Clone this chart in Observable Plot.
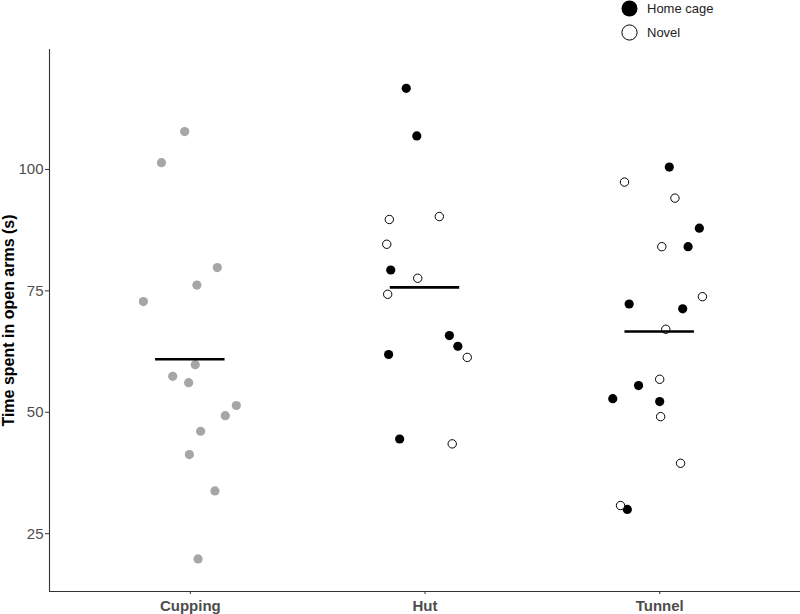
<!DOCTYPE html>
<html>
<head>
<meta charset="utf-8">
<script src="https://cdn.jsdelivr.net/npm/d3@7"></script>
<script src="https://cdn.jsdelivr.net/npm/@observablehq/plot@0.6"></script>
<style>
  body { margin: 0; background: #fff; font-family: "Liberation Sans", Arial, sans-serif; }
  #wrap { position: relative; width: 800px; height: 614px; }
  #legend { position: absolute; left: 620px; top: -4px; font-size: 13px; color: #222; }
  #legend .row { display: flex; align-items: center; height: 24px; }
  #legend svg { margin-right: 8px; }
</style>
</head>
<body>
<div id="wrap">
  <div id="chart"></div>
  <div id="legend">
    <div class="row"><svg width="19" height="19"><circle cx="9.5" cy="9.5" r="8" fill="#000"/></svg><span>Home cage</span></div>
    <div class="row"><svg width="19" height="19"><circle cx="9.5" cy="9.5" r="7.6" fill="#fff" stroke="#000" stroke-width="1"/></svg><span>Novel</span></div>
  </div>
</div>
<script>
const categories = ["Cupping", "Hut", "Tunnel"];
const yTicks = [25, 50, 75, 100];
const yTitle = "Time spent in open arms (s)";

// Cupping (no housing split)
const cuppingValues = [107.8, 101.4, 79.8, 76.2, 72.8, 59.8, 57.4, 56.1, 51.4, 49.3, 46.1, 41.3, 33.8, 19.8];
const cuppingJitter = [-0.024, -0.123, 0.115, 0.028, -0.200, 0.021, -0.075, -0.007, 0.196, 0.149, 0.044, -0.004, 0.105, 0.033];

// Hut
const hutHomeValues = [116.7, 106.9, 79.3, 65.8, 63.6, 61.9, 44.5];
const hutHomeJitter = [-0.080, -0.035, -0.146, 0.104, 0.140, -0.155, -0.108];
const hutNovelValues = [89.7, 90.3, 84.6, 77.6, 74.3, 61.3, 43.5];
const hutNovelJitter = [-0.152, 0.061, -0.163, -0.031, -0.159, 0.180, 0.116];

// Tunnel
const tunnelHomeValues = [100.5, 87.9, 84.1, 72.3, 71.3, 55.5, 52.8, 52.2, 30.0];
const tunnelHomeJitter = [0.041, 0.169, 0.121, -0.130, 0.098, -0.090, -0.200, 0.000, -0.138];
const tunnelNovelValues = [97.4, 94.1, 84.1, 73.8, 67.1, 56.8, 49.1, 39.5, 30.8];
const tunnelNovelJitter = [-0.150, 0.065, 0.009, 0.182, 0.026, 0.000, 0.004, 0.089, -0.167];

function rows(group, housing, values, jitter) {
  return values.map((v, i) => ({group, housing, value: v, pos: categories.indexOf(group) + 1 + jitter[i]}));
}
const cupping = rows("Cupping", "none", cuppingValues, cuppingJitter);
const home = [...rows("Hut", "Home cage", hutHomeValues, hutHomeJitter), ...rows("Tunnel", "Home cage", tunnelHomeValues, tunnelHomeJitter)];
const novel = [...rows("Hut", "Novel", hutNovelValues, hutNovelJitter), ...rows("Tunnel", "Novel", tunnelNovelValues, tunnelNovelJitter)];
const all = [...cupping, ...home, ...novel];
const means = categories.map((c, i) => ({group: c, idx: i + 1, mean: d3.mean(all.filter(d => d.group === c), d => d.value)}));

const halfWidth = 0.148;
const yMin = 13.1, yMax = 124.7;

const chart = Plot.plot({
  width: 800,
  height: 614,
  marginLeft: 49,
  marginRight: 0,
  marginTop: 49,
  marginBottom: 23,
  style: {fontFamily: "'Liberation Sans', Arial, sans-serif", background: "#fff"},
  x: {type: "linear", domain: [0.4, 3.6], axis: null},
  y: {domain: [yMin, yMax], axis: null},
  marks: [
    Plot.ruleX([0.4], {stroke: "#333", strokeWidth: 1.1}),
    Plot.ruleY([yMin], {stroke: "#333", strokeWidth: 1.1}),
    Plot.axisY({ticks: yTicks, tickSize: 4, tickPadding: 2, fontSize: 15, stroke: "#333", fill: "#4d4d4d", label: null}),
    Plot.axisX({ticks: [1, 2, 3], tickFormat: d => categories[d - 1], tickSize: 3, tickPadding: 6, fontSize: 15, fontWeight: "bold", stroke: "#333", fill: "#4d4d4d", label: null}),
    Plot.text([yTitle], {frameAnchor: "left", textAnchor: "middle", rotate: -90, dx: -41, fontSize: 16, fontWeight: "bold", fill: "#000", text: d => d}),
    Plot.dot(cupping, {x: "pos", y: "value", r: 4.6, fill: "#a6a6a6", stroke: "none"}),
    Plot.dot(home, {x: "pos", y: "value", r: 4.6, fill: "#000", stroke: "none"}),
    Plot.dot(novel, {x: "pos", y: "value", r: 4.2, fill: "#fff", stroke: "#000", strokeWidth: 1}),
    Plot.ruleY(means, {y: "mean", x1: d => d.idx - halfWidth, x2: d => d.idx + halfWidth, stroke: "#000", strokeWidth: 2.6})
  ]
});
document.getElementById("chart").appendChild(chart);
</script>
</body>
</html>
